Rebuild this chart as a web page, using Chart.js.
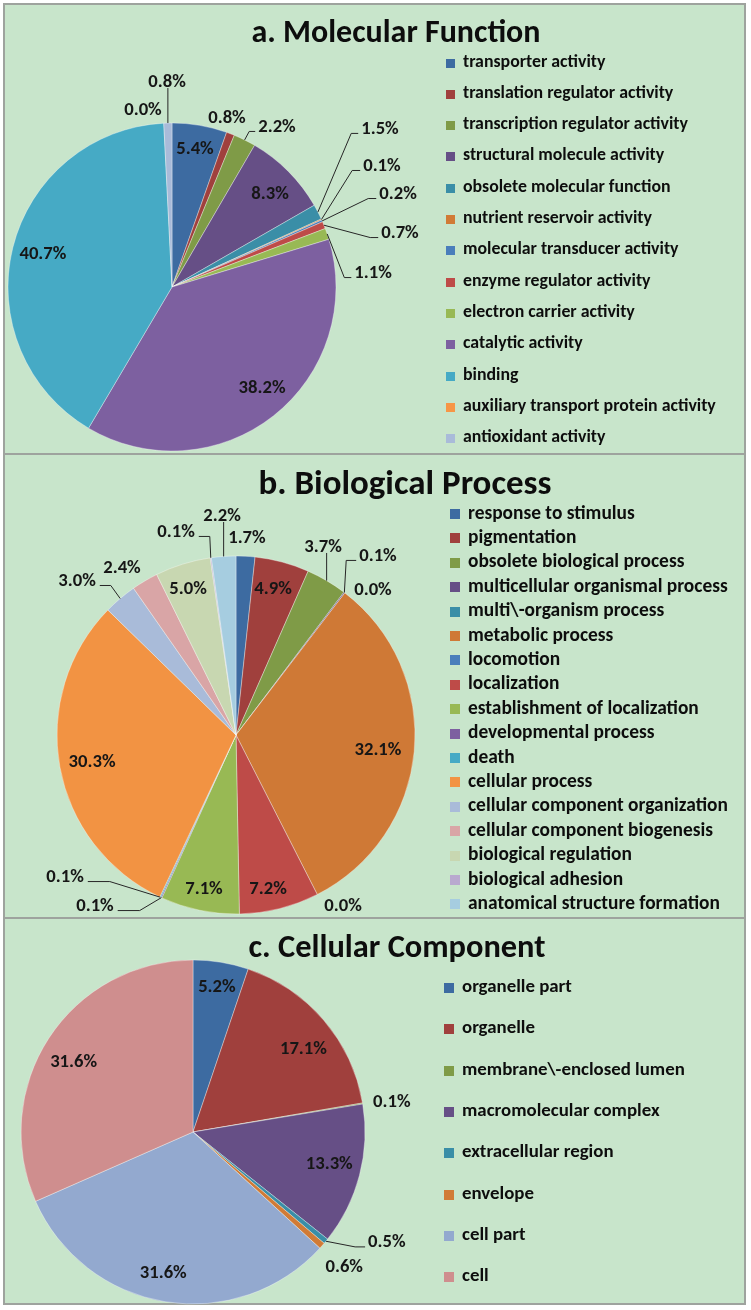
<!DOCTYPE html>
<html><head><meta charset="utf-8">
<script src="https://cdn.jsdelivr.net/npm/chart.js@4.4.0/dist/chart.umd.min.js"></script>
<style>
html,body{margin:0;padding:0;background:#fff;}
body{width:751px;height:1310px;position:relative;overflow:hidden;font-family:Carlito,Lato,"Open Sans",sans-serif;}
.panel{position:absolute;left:3px;width:743px;box-sizing:border-box;border:2px solid #9ea39e;background:#c8e5cb;}
canvas{position:absolute;left:0;z-index:2;}
.txt{position:absolute;font-weight:bold;color:#0d0d0d;white-space:nowrap;line-height:1.3;z-index:3;font-family:Carlito,Lato,sans-serif;}
.sq{position:absolute;z-index:3;}
</style></head><body>
<script>
// ---------- DATA ----------
const mfLabels = ['transporter activity','translation regulator activity','transcription regulator activity','structural molecule activity','obsolete molecular function','nutrient reservoir activity','molecular transducer activity','enzyme regulator activity','electron carrier activity','catalytic activity','binding','auxiliary transport protein activity','antioxidant activity'];
const mfValues = [5.4,0.8,2.2,8.3,1.5,0.1,0.2,0.7,1.1,38.2,40.7,0.0,0.8];

const bpLabels = ['response to stimulus','pigmentation','obsolete biological process','multicellular organismal process','multi\\-organism process','metabolic process','locomotion','localization','establishment of localization','developmental process','death','cellular process','cellular component organization','cellular component biogenesis','biological regulation','biological adhesion','anatomical structure formation'];
const bpValues = [1.7,4.9,3.7,0.1,0.0,32.1,0.0,7.2,7.1,0.1,0.1,30.3,3.0,2.4,5.0,0.1,2.2];

const ccLabels = ['organelle part','organelle','membrane\\-enclosed lumen','macromolecular complex','extracellular region','envelope','cell part','cell'];
const ccValues = [5.2,17.1,0.1,13.3,0.5,0.6,31.6,31.6];

const titles = ['a. Molecular Function','b. Biological Process','c. Cellular Component'];

// ---------- STYLE ----------
const mfColors = ['#3d6ba1','#a0403d','#7f9b47','#664f86','#3a8ea7','#d17b36','#4a7ebb','#be4b48','#98b954','#7d60a0','#46aac5','#f79646','#a9bbd9'];
const bpColors = ['#3d6ba1','#a0403d','#7f9b47','#664f86','#3a8ea7','#cf7936','#4a7ebb','#be4b48','#98b954','#7d60a0','#46aac5','#f29343','#a9bbd9','#d9a5a6','#c8d7b1','#b9a9cf','#a6cde0'];
const ccColors = ['#3d6ba1','#a0403d','#7f9b47','#664f86','#3a8ea7','#d17b36','#93a9cf','#cf8e8e'];

// label placement (relative to pie centre, in radius units); t: leader type
const mfPlace = [
 {x:0.140,y:-0.848},{x:0.335,y:-1.037},{x:0.640,y:-0.982,t:'l',s:6},{x:0.598,y:-0.573},
 {x:1.268,y:-0.970,t:'l',s:7},{x:1.280,y:-0.744,t:'l',s:8},{x:1.378,y:-0.573,t:'l',s:8},
 {x:1.390,y:-0.335,t:'l',s:8},{x:1.226,y:-0.091,t:'l',s:7},{x:0.549,y:0.610},
 {x:-0.787,y:-0.207},{x:-0.177,y:-1.085},{x:-0.030,y:-1.256,t:'b'}];
const bpPlace = [
 {x:0.061,y:-1.106},{x:0.207,y:-0.821},{x:0.486,y:-1.056,t:'b'},{x:0.793,y:-1.006,t:'l',s:10},
 {x:0.765,y:-0.816},{x:0.793,y:0.078},{x:0.598,y:0.950},{x:0.179,y:0.855},{x:-0.179,y:0.855},
 {x:-0.788,y:0.950,t:'r',s:22},{x:-0.955,y:0.788,t:'r',s:22},{x:-0.804,y:0.145},
 {x:-0.888,y:-0.866,t:'r',s:11},{x:-0.637,y:-0.939},{x:-0.268,y:-0.821},
 {x:-0.335,y:-1.140,t:'r',s:11},{x:-0.078,y:-1.229,t:'b'}];
const ccPlace = [
 {x:0.139,y:-0.850},{x:0.642,y:-0.491},{x:1.156,y:-0.179},{x:0.792,y:0.179},
 {x:1.127,y:0.636,t:'l',s:10},{x:0.879,y:0.780},{x:-0.173,y:0.815},{x:-0.694,y:-0.410}];

const panels = [
 {labels:mfLabels, values:mfValues, colors:mfColors, place:mfPlace, title:titles[0],
  top:3, height:452, cx:172, cy:287, r:164, titleX:396, titleBase:42, titleW:289,
  sqX:446, sq:9, textX:463, y0:63, dy:31.3, fitText:'auxiliary transport protein activity', fitW:253},
 {labels:bpLabels, values:bpValues, colors:bpColors, place:bpPlace, title:titles[1],
  top:453, height:466, cx:236, cy:735, r:179, titleX:405, titleBase:495, titleW:293,
  sqX:450, sq:10, textX:468, y0:514, dy:24.4, fitText:'cellular component organization', fitW:260},
 {labels:ccLabels, values:ccValues, colors:ccColors, place:ccPlace, title:titles[2],
  top:917, height:388, cx:193, cy:1132, r:172, titleX:397, titleBase:957, titleW:297,
  sqX:444, sq:10, textX:462, y0:988, dy:41.35, fitText:'membrane\\-enclosed lumen', fitW:223}
];

const FAM = 'Carlito, Lato, "Open Sans", sans-serif';
const mctx = document.createElement('canvas').getContext('2d');
function fit(text, w){ mctx.font = 'bold 100px ' + FAM; return 100 * w / mctx.measureText(text).width; }
function metrics(fs){
  mctx.font = 'bold ' + fs + 'px ' + FAM;
  const m = mctx.measureText('x');
  const d = mctx.measureText('0');
  return {A: m.fontBoundingBoxAscent, D: m.fontBoundingBoxDescent, xh: m.actualBoundingBoxAscent, cap: d.actualBoundingBoxAscent};
}
const labelFont = fit('40.7%', 47);

// place an HTML text so that its baseline sits at y = base
function addText(str, x, base, fs, center){
  const mt = metrics(fs);
  const d = document.createElement('div');
  d.className = 'txt';
  d.textContent = str;
  d.style.fontSize = fs + 'px';
  d.style.left = x + 'px';
  d.style.top = (base - (mt.A - mt.D) / 2) + 'px';
  d.style.transform = center ? 'translate(-50%,-50%)' : 'translateY(-50%)';
  document.body.appendChild(d);
}

const pieLabels = {
  id:'pieLabels',
  afterDatasetsDraw(chart, args, opts){
    const ctx = chart.ctx;
    const meta = chart.getDatasetMeta(0);
    const vals = chart.data.datasets[0].data;
    const mt = metrics(labelFont);
    ctx.save();
    ctx.font = 'bold ' + labelFont + 'px ' + FAM;
    ctx.textAlign = 'center';
    ctx.textBaseline = 'alphabetic';
    ctx.fillStyle = '#161616';
    ctx.strokeStyle = '#262626';
    ctx.lineWidth = 1;
    meta.data.forEach((arc, i) => {
      const {x, y, startAngle, endAngle, outerRadius} = arc.getProps(['x','y','startAngle','endAngle','outerRadius'], true);
      const pl = opts.place[i];
      const R = outerRadius;
      const lx = x + pl.x * R, ly = y + pl.y * R;
      const txt = vals[i].toFixed(1) + '%';
      const w = ctx.measureText(txt).width;
      const mid = (startAngle + endAngle) / 2;
      const px = x + R * Math.cos(mid), py = y + R * Math.sin(mid);
      if (pl.t) {
        ctx.beginPath();
        if (pl.t === 'l') {
          const e = lx - w/2 - 3, s = e - (pl.s || 8), sy = ly + 5.5;
          ctx.moveTo(px, py); ctx.lineTo(s, sy); ctx.lineTo(e, sy);
        } else if (pl.t === 'r') {
          const s = lx + w/2 + 4, e = s + (pl.s || 10), sy = ly + 5.5;
          ctx.moveTo(s, sy); ctx.lineTo(e, sy); ctx.lineTo(px, py);
        } else if (pl.t === 'b') {
          ctx.moveTo(px, py); ctx.lineTo(px, ly + 7);
        }
        ctx.stroke();
      }
      ctx.fillText(txt, lx, ly + mt.cap / 2);
    });
    ctx.restore();
  }
};

panels.forEach(p => {
  const div = document.createElement('div');
  div.className = 'panel';
  div.style.top = p.top + 'px';
  div.style.height = p.height + 'px';
  document.body.appendChild(div);

  const cv = document.createElement('canvas');
  cv.width = 751; cv.height = p.height;
  cv.style.top = p.top + 'px';
  document.body.appendChild(cv);

  const bw = 1;
  const ccy = p.cy - p.top;
  const pad = {
    left: p.cx - p.r - bw/2,
    right: 751 - (p.cx + p.r + bw/2),
    top: ccy - p.r - bw/2,
    bottom: p.height - (ccy + p.r + bw/2)
  };

  new Chart(cv, {
    type: 'pie',
    data: { labels: p.labels, datasets: [{ data: p.values, backgroundColor: p.colors,
      borderColor: 'rgba(255,255,255,0.35)', borderWidth: bw, hoverOffset: 0 }] },
    options: {
      responsive: false, animation: false, devicePixelRatio: 1, events: [],
      layout: { padding: pad },
      plugins: { legend: { display: false }, tooltip: { enabled: false }, pieLabels: { place: p.place } }
    },
    plugins: [pieLabels]
  });

  // title
  const tfs = fit(p.title, p.titleW);
  addText(p.title, p.titleX, p.titleBase, tfs, true);

  // legend
  const lfs = fit(p.fitText, p.fitW);
  const lm = metrics(lfs);
  p.labels.forEach((lab, i) => {
    const yc = p.y0 + i * p.dy;
    const sq = document.createElement('div');
    sq.className = 'sq';
    sq.style.left = p.sqX + 'px';
    sq.style.top = (yc - p.sq/2) + 'px';
    sq.style.width = p.sq + 'px';
    sq.style.height = p.sq + 'px';
    sq.style.background = p.colors[i];
    document.body.appendChild(sq);
    addText(lab, p.textX, yc + lm.xh / 2, lfs, false);
  });
});
</script>
</body></html>
